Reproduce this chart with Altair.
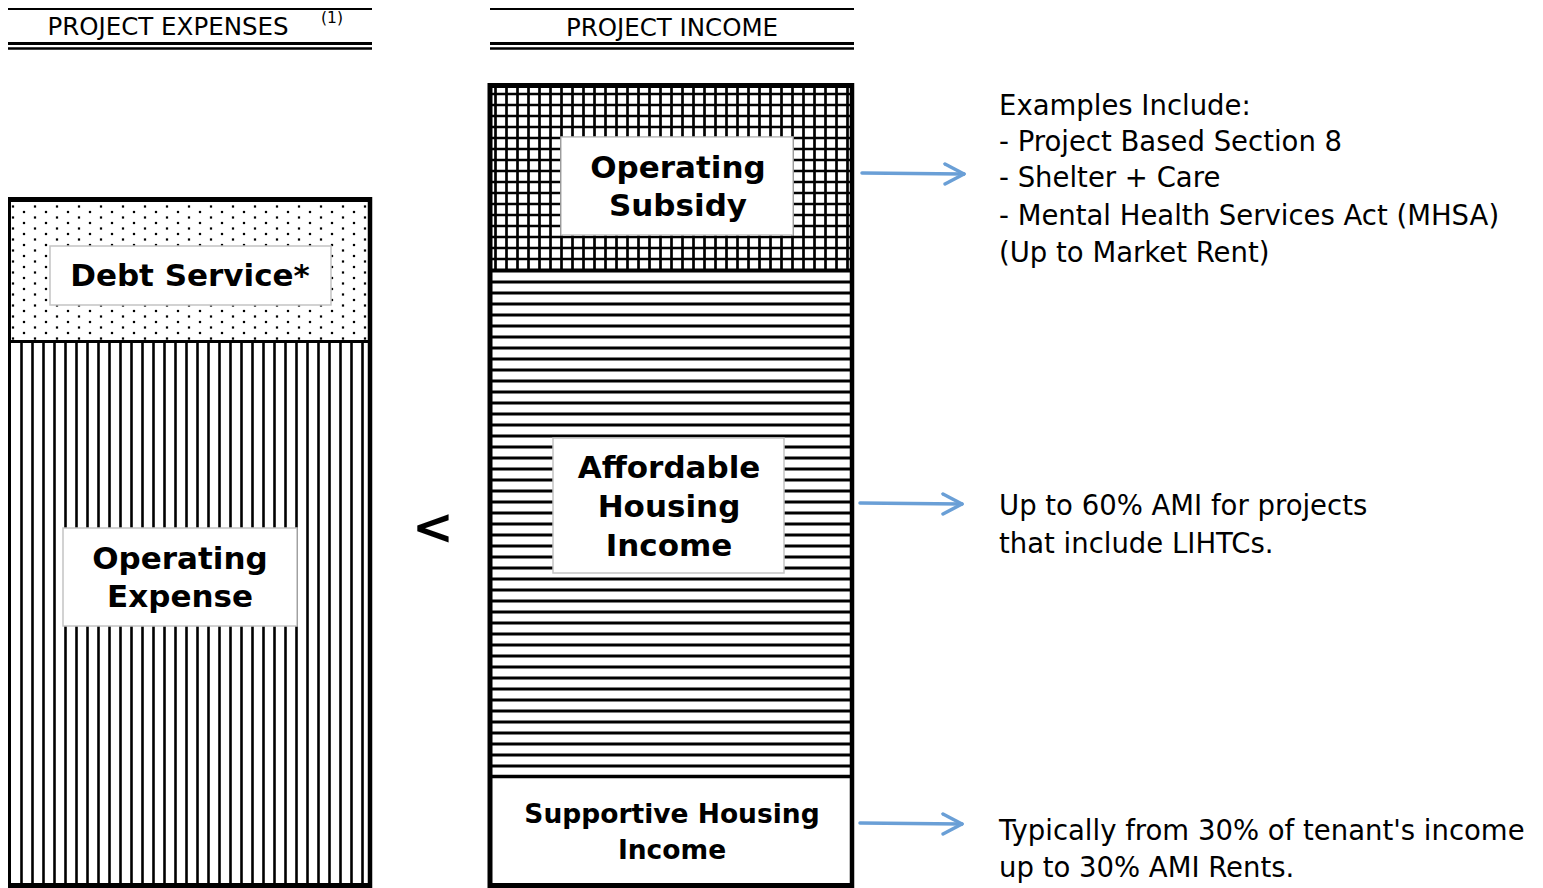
import altair as alt
import pandas as pd
import numpy as np

W, H = 1527, 880
FONT = "DejaVu Sans"
xs = alt.Scale(domain=[8, 8 + W], nice=False, zero=False)
ys = alt.Scale(domain=[8, 8 + H], reverse=True, nice=False, zero=False)

# ---------------- content ----------------
header_labels = ["PROJECT EXPENSES", "PROJECT INCOME"]
header_x = [168, 672]
header_y = [26, 27]
header_left = [8, 490]
header_right = [372, 854]

note_label = ["(1)"]
note_x = [332]
note_y = [16.5]

box_labels = ["Debt Service*", "Operating\nExpense", "Operating\nSubsidy",
              "Affordable\nHousing\nIncome"]
box_x1 = [50, 63, 561, 553]
box_x2 = [331, 297, 793, 784]
box_y1 = [246, 528, 137, 438]
box_y2 = [305, 626, 235, 573]

bold_lines = ["Debt Service*", "Operating", "Expense", "Operating", "Subsidy",
              "Affordable", "Housing", "Income"]
bold_x = [190, 180, 180, 678, 678, 669, 669, 669]
bold_y = [275, 558, 596, 167, 205, 467, 506, 545]

support_lines = ["Supportive Housing", "Income"]
support_x = [672, 672]
support_y = [813, 849]

note_lines = ["Examples Include:", "- Project Based Section 8", "- Shelter + Care",
              "- Mental Health Services Act (MHSA)", "(Up to Market Rent)",
              "Up to 60% AMI for projects", "that include LIHTCs.",
              "Typically from 30% of tenant's income", "up to 30% AMI Rents."]
note_y_pos = [105, 141, 177, 215, 252, 505, 543, 830, 867]
note_x_pos = [999] * len(note_lines)

compare_symbol = ["<"]
arrow_y_start = [173, 503, 823]
arrow_y_end = [174, 504, 824]
arrow_x_start = [862, 860, 860]
arrow_x_end = [963, 961, 961]

# ---------------- geometry of the two stacks ----------------
left_box = dict(x1=8.5, x2=370, top=199.5, bottom=885.5, divider=341.5)
right_box = dict(x1=490, x2=852, top=85.5, bottom=885.5, div1=270.5, div2=776.5)

# hatch textures (pattern spacing of the fills)
vert_hatch_x = np.arange(21.5, 366, 11)
horiz_hatch_y = np.arange(282, 770, 11)
grid_x = np.arange(495.5, 849, 11)
grid_y = np.arange(94, 268, 11)

rules = []
for x in vert_hatch_x:
    rules.append(dict(x=x, x2=x, y=left_box["divider"], y2=888, w=2.6))
for y in horiz_hatch_y:
    rules.append(dict(x=right_box["x1"], x2=right_box["x2"], y=y, y2=y, w=3))
for x in grid_x:
    rules.append(dict(x=x, x2=x, y=right_box["top"], y2=right_box["div1"], w=2.7))
for y in grid_y:
    rules.append(dict(x=right_box["x1"], x2=right_box["x2"], y=y, y2=y, w=2.7))
pattern_df = pd.DataFrame(rules)

dots = []
r = 0
for y in np.arange(206.5, 339, 5.5):
    off = 0 if r % 2 == 0 else 11
    for x in np.arange(13 + off, 366, 22):
        dots.append(dict(x=x, y=y))
    r += 1
dots_df = pd.DataFrame(dots)

borders = [
    dict(x=left_box["x1"], x2=left_box["x1"], y=left_box["top"] - 2.5, y2=888, w=5),
    dict(x=left_box["x2"], x2=left_box["x2"], y=left_box["top"] - 2.5, y2=888, w=4.5),
    dict(x=left_box["x1"], x2=left_box["x2"], y=left_box["top"], y2=left_box["top"], w=5),
    dict(x=left_box["x1"], x2=left_box["x2"], y=left_box["divider"], y2=left_box["divider"], w=3),
    dict(x=left_box["x1"], x2=left_box["x2"], y=left_box["bottom"], y2=left_box["bottom"], w=5),
    dict(x=right_box["x1"], x2=right_box["x1"], y=right_box["top"] - 2.5, y2=888, w=5),
    dict(x=right_box["x2"], x2=right_box["x2"], y=right_box["top"] - 2.5, y2=888, w=4.5),
    dict(x=right_box["x1"], x2=right_box["x2"], y=right_box["top"], y2=right_box["top"], w=5),
    dict(x=right_box["x1"], x2=right_box["x2"], y=right_box["div1"], y2=right_box["div1"], w=4),
    dict(x=right_box["x1"], x2=right_box["x2"], y=right_box["div2"], y2=right_box["div2"], w=3.5),
    dict(x=right_box["x1"], x2=right_box["x2"], y=right_box["bottom"], y2=right_box["bottom"], w=5),
]
for x1, x2 in zip(header_left, header_right):
    borders.append(dict(x=x1, x2=x2, y=9, y2=9, w=2))
    borders.append(dict(x=x1, x2=x2, y=43.5, y2=43.5, w=3))
    borders.append(dict(x=x1, x2=x2, y=48.5, y2=48.5, w=2.5))
border_df = pd.DataFrame(borders)

# ---------------- layers ----------------
def rule_layer(df, color, cap="butt"):
    return alt.Chart(df).mark_rule(color=color, strokeCap=cap).encode(
        x=alt.X("x:Q", scale=xs, axis=None), x2="x2:Q",
        y=alt.Y("y:Q", scale=ys, axis=None), y2="y2:Q",
        strokeWidth=alt.StrokeWidth("w:Q", scale=None),
    )

patterns = rule_layer(pattern_df, "black")
border_layer = rule_layer(border_df, "black")

dot_layer = alt.Chart(dots_df).mark_square(color="black", size=5, opacity=1).encode(
    x=alt.X("x:Q", scale=xs, axis=None), y=alt.Y("y:Q", scale=ys, axis=None)
)

box_df = pd.DataFrame(dict(label=box_labels, x=box_x1, x2=box_x2, y=box_y1, y2=box_y2))
boxes = alt.Chart(box_df).mark_rect(fill="white", stroke="#c4c4c4", strokeWidth=1.5).encode(
    x=alt.X("x:Q", scale=xs, axis=None), x2="x2:Q",
    y=alt.Y("y:Q", scale=ys, axis=None), y2="y2:Q",
)

def text_layer(labels, xv, yv, size, weight="normal", align="center"):
    df = pd.DataFrame(dict(t=labels, x=xv, y=yv))
    return alt.Chart(df).mark_text(
        font=FONT, fontSize=size, fontWeight=weight, align=align,
        baseline="middle", color="black", dy=1.5
    ).encode(
        x=alt.X("x:Q", scale=xs, axis=None), y=alt.Y("y:Q", scale=ys, axis=None),
        text="t:N",
    )

headers = text_layer(header_labels, header_x, header_y, 24.5)
note = text_layer(note_label, note_x, note_y, 15.5)
bold_text = text_layer(bold_lines, bold_x, bold_y, 31, "bold")
support_text = text_layer(support_lines, support_x, support_y, 26.5, "bold")
right_notes = text_layer(note_lines, note_x_pos, note_y_pos, 27.5, "normal", "left")
compare = text_layer(compare_symbol, [433], [527], 50, "bold")

arrow_df = pd.DataFrame(dict(x=arrow_x_start, x2=arrow_x_end, y=arrow_y_start, y2=arrow_y_end, w=3.5))
head_rows = []
for xe, ye in zip(arrow_x_end, arrow_y_end):
    head_rows.append(dict(x=xe - 18, x2=xe + 1, y=ye - 10, y2=ye, w=3.5))
    head_rows.append(dict(x=xe - 18, x2=xe + 1, y=ye + 10, y2=ye, w=3.5))
head_df = pd.DataFrame(head_rows)
ARROW = "#6a9fd6"
arrows = rule_layer(arrow_df, ARROW, "round")
heads = rule_layer(head_df, ARROW, "round")

chart = alt.layer(
    patterns, dot_layer, border_layer, boxes, bold_text, support_text,
    headers, note, right_notes, compare, arrows, heads,
).properties(
    width=W, height=H, padding=0, autosize=alt.AutoSizeParams(type="none")
).configure_view(stroke=None)

chart.save("out.html", embed_options={"renderer": "svg", "actions": False})
